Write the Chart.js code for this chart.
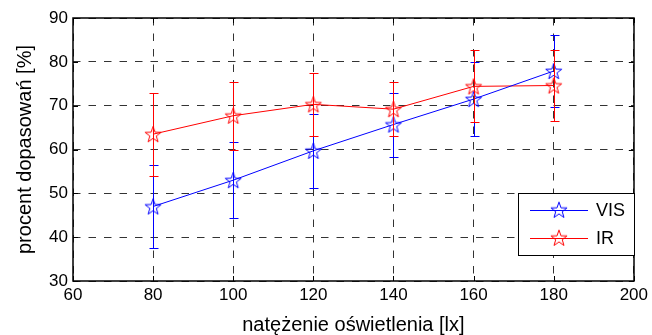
<!DOCTYPE html>
<html>
<head>
<meta charset="utf-8">
<script src="https://cdn.jsdelivr.net/npm/chart.js@4.4.1/dist/chart.umd.min.js"></script>
<style>
  body { margin: 0; background: #fff; }
  #wrap { width: 652px; height: 335px; }
</style>
</head>
<body>
<div id="wrap"><canvas id="chart" width="652" height="335"></canvas></div>
<script>
const xValues = [80, 100, 120, 140, 160, 180];
const visValues = [47.0, 53.0, 59.7, 65.7, 71.5, 77.9];
const visError = [9.4, 8.7, 8.5, 7.3, 8.4, 8.2];
const irValues = [63.5, 67.7, 70.3, 69.2, 74.4, 74.6];
const irError = [9.5, 7.7, 7.2, 6.2, 8.2, 8.0];
const seriesNames = ['VIS', 'IR'];
const xTitle = 'natężenie oświetlenia [lx]';
const yTitle = 'procent dopasowań [%]';

const FONT = 'Liberation Sans, Arial, sans-serif';

// hollow pentagram marker, like matlab 'p'
function makeStar(color) {
  const c = document.createElement('canvas');
  c.width = 20; c.height = 20;
  const g = c.getContext('2d');
  g.strokeStyle = color;
  g.lineWidth = 1;
  g.beginPath();
  for (let i = 0; i < 10; i++) {
    const r = i % 2 === 0 ? 8.5 : 3.4;
    const a = -Math.PI / 2 + i * Math.PI / 5;
    const px = 10 + r * Math.cos(a), py = 10.8 + r * Math.sin(a);
    if (i === 0) g.moveTo(px, py); else g.lineTo(px, py);
  }
  g.closePath();
  g.stroke();
  return c;
}

const blueStar = makeStar('#0000ff');
const redStar = makeStar('#ff0000');

function toPoints(vals) {
  return xValues.map((x, i) => ({ x: x, y: vals[i] }));
}

const errorBars = {
  id: 'errorBars',
  afterDatasetsDraw(chart) {
    const ctx = chart.ctx;
    const xs = chart.scales.x, ys = chart.scales.y;
    const sets = [[visValues, visError, '#0000ff'], [irValues, irError, '#ff0000']];
    ctx.save();
    ctx.lineWidth = 1;
    sets.forEach(([vals, errs, col]) => {
      ctx.strokeStyle = col;
      xValues.forEach((x, i) => {
        const px = Math.round(xs.getPixelForValue(x)) + 0.5;
        const top = Math.round(ys.getPixelForValue(vals[i] + errs[i])) + 0.5;
        const bot = Math.round(ys.getPixelForValue(vals[i] - errs[i])) + 0.5;
        ctx.beginPath();
        ctx.moveTo(px, top); ctx.lineTo(px, bot);
        ctx.moveTo(px - 4, top); ctx.lineTo(px + 5, top);
        ctx.moveTo(px - 4, bot); ctx.lineTo(px + 5, bot);
        ctx.stroke();
      });
    });
    ctx.restore();
  }
};

const frameAndLegend = {
  id: 'frameAndLegend',
  afterDraw(chart) {
    const ctx = chart.ctx;
    const a = chart.chartArea;
    const xs = chart.scales.x, ys = chart.scales.y;
    ctx.save();
    ctx.strokeStyle = '#000';
    ctx.lineWidth = 1;
    // inward ticks
    ctx.beginPath();
    xs.ticks.forEach(t => {
      const px = Math.round(xs.getPixelForValue(t.value)) + 0.5;
      ctx.moveTo(px, a.bottom); ctx.lineTo(px, a.bottom - 5);
      ctx.moveTo(px, a.top); ctx.lineTo(px, a.top + 5);
    });
    ys.ticks.forEach(t => {
      const py = Math.round(ys.getPixelForValue(t.value)) + 0.5;
      ctx.moveTo(a.left, py); ctx.lineTo(a.left + 5, py);
      ctx.moveTo(a.right, py); ctx.lineTo(a.right - 5, py);
    });
    ctx.stroke();
    ctx.lineWidth = 1.5;
    ctx.strokeRect(Math.round(a.left), Math.round(a.top),
      Math.round(a.right - a.left), Math.round(a.bottom - a.top));
    ctx.lineWidth = 1;

    // legend box inside lower right
    const bx = Math.round(a.right - 116), by = Math.round(a.bottom - 88), bw = 116, bh = 62;
    ctx.fillStyle = '#fff';
    ctx.fillRect(bx, by, bw, bh);
    ctx.strokeRect(bx + 0.5, by + 0.5, bw, bh);
    const rows = [[seriesNames[0], '#0000ff', blueStar], [seriesNames[1], '#ff0000', redStar]];
    ctx.font = '18px ' + FONT;
    ctx.textBaseline = 'middle';
    rows.forEach(([name, col, img], i) => {
      const ry = Math.round(by + 17 + i * 28) + 0.5;
      ctx.strokeStyle = col;
      ctx.beginPath();
      ctx.moveTo(bx + 12, ry); ctx.lineTo(bx + 70, ry);
      ctx.stroke();
      ctx.drawImage(img, bx + 41 - 10, ry - 10.8);
      ctx.fillStyle = '#000';
      ctx.fillText(name, bx + 78, ry + 1);
    });
    ctx.restore();
  }
};

new Chart(document.getElementById('chart'), {
  type: 'line',
  data: {
    datasets: [
      {
        label: seriesNames[0],
        data: toPoints(visValues),
        borderColor: '#0000ff',
        borderWidth: 1,
        pointStyle: blueStar,
        pointRadius: 8,
        fill: false,
        tension: 0
      },
      {
        label: seriesNames[1],
        data: toPoints(irValues),
        borderColor: '#ff0000',
        borderWidth: 1,
        pointStyle: redStar,
        pointRadius: 8,
        fill: false,
        tension: 0
      }
    ]
  },
  plugins: [errorBars, frameAndLegend],
  options: {
    responsive: false,
    animation: false,
    layout: { padding: { top: 18, right: 17, left: 0, bottom: 0 } },
    plugins: { legend: { display: false }, tooltip: { enabled: false } },
    scales: {
      x: {
        type: 'linear',
        min: 60, max: 200,
        afterFit: s => { s.height = 54; },
        ticks: { stepSize: 20, color: '#000', padding: 4, font: { family: FONT, size: 17 } },
        grid: { color: '#333', drawTicks: false, lineWidth: 1 },
        border: { display: false, dash: [7.5, 8] },
        title: { display: true, text: xTitle, color: '#000', font: { family: FONT, size: 20, lineHeight: 1.0 }, padding: { top: 0, bottom: 0 } }
      },
      y: {
        min: 30, max: 90,
        afterFit: s => { s.width = 73; },
        ticks: { stepSize: 10, color: '#000', padding: 5, font: { family: FONT, size: 17 } },
        grid: { color: '#333', drawTicks: false, lineWidth: 1 },
        border: { display: false, dash: [7.5, 8] },
        title: { display: true, text: yTitle, color: '#000', font: { family: FONT, size: 20 }, padding: { top: 13, bottom: 0 } }
      }
    }
  }
});
</script>
</body>
</html>
